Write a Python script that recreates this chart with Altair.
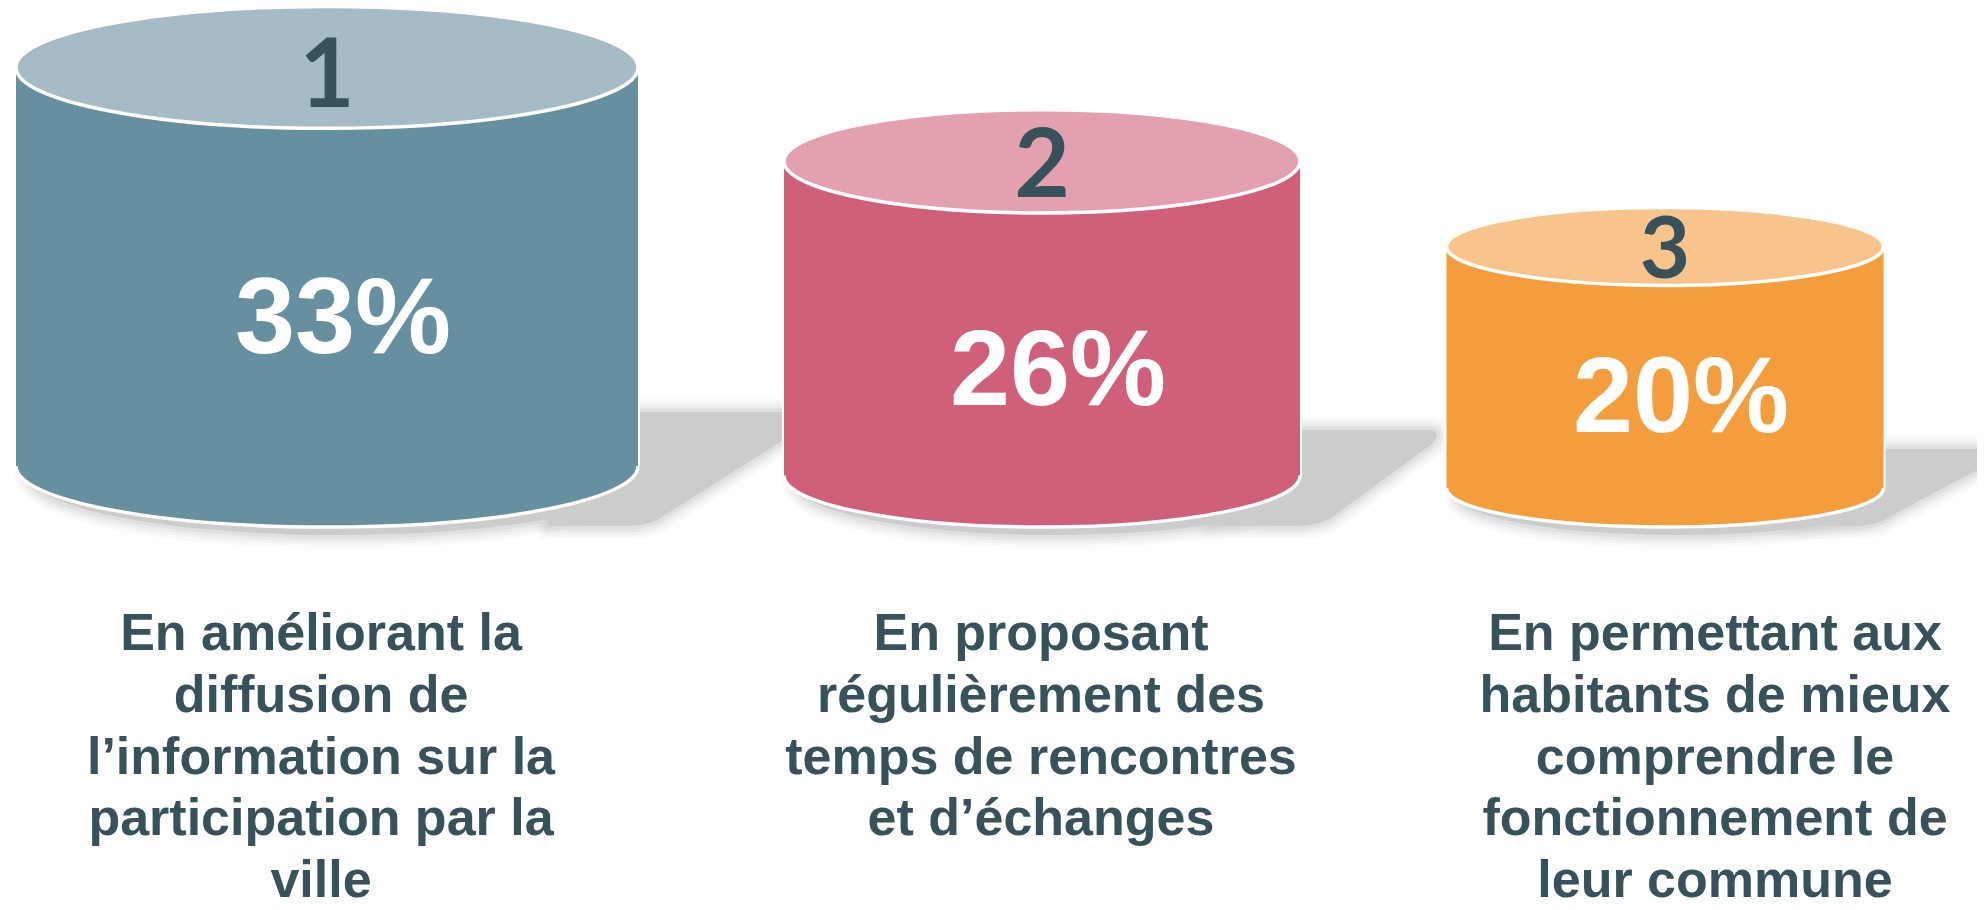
import altair as alt
import pandas as pd

# ---------------- data ----------------
ranks = ["1", "2", "3"]
values = [33, 26, 20]
value_labels = ["33%", "26%", "20%"]
answers = [
    ["En améliorant la", "diffusion de", "l’information sur la", "participation par la", "ville"],
    ["En proposant", "régulièrement des", "temps de rencontres", "et d’échanges"],
    ["En permettant aux", "habitants de mieux", "comprendre le", "fonctionnement de", "leur commune"],
]

# ---------------- styles ----------------
body_colors = ["#6690a0", "#d06079", "#f39d3c"]
top_colors = ["#a5bbc5", "#e3a0ae", "#f8c48b"]
text_dark = "#37525b"
shadow_gray = "#cccccc"

# ---------------- layout (screen pixels) ----------------
MARGIN = 8
PLOT_W, PLOT_H = 1969, 902
cyl_cx = [327, 1042, 1665]
cyl_w = [622, 516, 437]
cyl_e = [0.196, 0.200, 0.178]      # ellipse ry / rx
floor_y = 527
px_per_pct = 12.08
rank_base = [107, 197, 278]
rank_size = [95, 96, 87]
pct_base = [353, 405, 432]
pct_dx = 16
pct_size = 108
label_cx = [321, 1041, 1715]
label_base0 = 650
label_step = 61.8
label_size = 52
shadow_top = [115, 97, 78]
shadow_reach = [176, 140, 115]
shadow_foot = [27, 35, 9]


def ellipse_path(e):
    c = 0.5523
    return (f"M-1,0C-1,{-c*e:.4f} {-c:.4f},{-e:.4f} 0,{-e:.4f}"
            f"C{c:.4f},{-e:.4f} 1,{-c*e:.4f} 1,0"
            f"C1,{c*e:.4f} {c:.4f},{e:.4f} 0,{e:.4f}"
            f"C{-c:.4f},{e:.4f} -1,{c*e:.4f} -1,0Z")


rows = []
for i in range(3):
    w = cyl_w[i]
    ry = w * cyl_e[i] / 2
    bot = floor_y - ry
    top = bot - values[i] * px_per_pct
    rows.append(dict(
        rank=ranks[i], value=values[i], label=value_labels[i],
        cx=cyl_cx[i], left=cyl_cx[i] - w / 2, right=cyl_cx[i] + w / 2,
        left_o=cyl_cx[i] - w / 2 - 2, right_o=cyl_cx[i] + w / 2 + 2,
        top=top, bot=bot, esize=w * w, eshape=ellipse_path(cyl_e[i]),
        body=body_colors[i], topc=top_colors[i],
        rank_y=rank_base[i], rank_fs=rank_size[i],
        pct_x=cyl_cx[i] + pct_dx, pct_y=pct_base[i],
    ))
cyl = pd.DataFrame(rows)

shadow_rows = []
for i in range(3):
    r = rows[i]
    T, A, F = shadow_top[i], shadow_reach[i], shadow_foot[i]
    path = (f"M-90,{-T} L{A-14},{-T} Q{A+4},{-T} {A-8},{-T+14} "
            f"L{F},-12 Q{F-10},-3 {F-34},-1 L-90,-1 Z")
    shadow_rows.append(dict(x=r["right"], y=floor_y, shape=path, size=4))
    shadow_rows.append(dict(x=r["cx"] + 12, y=r["bot"] + 8, shape=r["eshape"], size=r["esize"]))
shadows = pd.DataFrame(shadow_rows)

lab_rows = []
for i, lines in enumerate(answers):
    for j, line in enumerate(lines):
        lab_rows.append(dict(x=label_cx[i], y=label_base0 + j * label_step, text=line))
labels = pd.DataFrame(lab_rows)

xs = alt.Scale(domain=[MARGIN, MARGIN + PLOT_W], nice=False, zero=False)
ys = alt.Scale(domain=[MARGIN, MARGIN + PLOT_H], nice=False, zero=False, reverse=True)


def X(f):
    return alt.X(f, type="quantitative", scale=xs, axis=None)


def Y(f):
    return alt.Y(f, type="quantitative", scale=ys, axis=None)


sh_base = alt.Chart(shadows).encode(
    x=X("x"), y=Y("y"),
    shape=alt.Shape("shape:N", scale=None, legend=None),
    size=alt.Size("size:Q", scale=None, legend=None),
)
halos = [
    sh_base.mark_point(filled=False, color=shadow_gray, strokeWidth=sw, opacity=op, strokeJoin="round")
    for sw, op in [(26, 0.10), (19, 0.14), (13, 0.2), (7, 0.3)]
]
sh_fill = sh_base.mark_point(filled=True, color=shadow_gray, strokeWidth=0, opacity=1)

cbase = alt.Chart(cyl)

outline = cbase.mark_rect(color="white").encode(
    x=X("left_o"), x2="right_o", y=Y("top"), y2="bot",
)
bottom_ell = cbase.mark_point(filled=True, opacity=1, strokeWidth=3.5).encode(
    x=X("cx"), y=Y("bot"),
    shape=alt.Shape("eshape:N", scale=None, legend=None),
    size=alt.Size("esize:Q", scale=None, legend=None),
    fill=alt.Fill("body:N", scale=None, legend=None),
    stroke=alt.value("white"),
)
body = cbase.mark_rect().encode(
    x=X("left"), x2="right", y=Y("top"), y2="bot",
    fill=alt.Fill("body:N", scale=None, legend=None),
)
top_ell = cbase.mark_point(filled=True, opacity=1, strokeWidth=3.5).encode(
    x=X("cx"), y=Y("top"),
    shape=alt.Shape("eshape:N", scale=None, legend=None),
    size=alt.Size("esize:Q", scale=None, legend=None),
    fill=alt.Fill("topc:N", scale=None, legend=None),
    stroke=alt.value("white"),
)
rank_txt = cbase.mark_text(
    font="Lato", fontWeight="bold", color=text_dark, align="center", baseline="alphabetic"
).encode(
    x=X("cx"), y=Y("rank_y"), text="rank:N",
    size=alt.Size("rank_fs:Q", scale=None, legend=None),
)
pct_txt = cbase.mark_text(
    font="Liberation Sans", fontWeight="bold", color="white", fontSize=pct_size,
    align="center", baseline="alphabetic"
).encode(x=X("pct_x"), y=Y("pct_y"), text="label:N")

answer_txt = alt.Chart(labels).mark_text(
    font="Liberation Sans", fontWeight="bold", color=text_dark, fontSize=label_size,
    align="center", baseline="alphabetic"
).encode(x=X("x"), y=Y("y"), text="text:N")

chart = alt.layer(
    *halos, sh_fill,
    outline, bottom_ell, body, top_ell,
    rank_txt, pct_txt, answer_txt,
).properties(
    width=PLOT_W, height=PLOT_H, padding=0,
    autosize=alt.AutoSizeParams(type="none"),
    background="white",
).configure_view(stroke=None)

chart.save("out.html", embed_options={"renderer": "svg", "actions": False})
